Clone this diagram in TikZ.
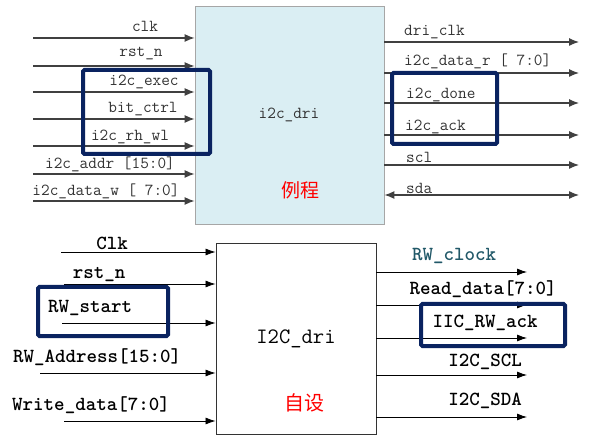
\documentclass[tikz,border=0pt]{standalone}
\usepackage{fontspec}
\usetikzlibrary{arrows.meta}
\newfontfamily\cjkfont{Noto Sans CJK SC}
\newfontfamily\bmono{lmmonolt10-bold}[Extension=.otf]
\definecolor{boxblue}{HTML}{DAEEF3}
\definecolor{navy}{HTML}{0A2360}
\definecolor{teal}{HTML}{215868}
\definecolor{wire}{HTML}{404040}
\tikzset{
  topwire/.style={draw=wire, line width=1.2pt, -{Latex[length=10pt,width=8pt]}},
  topbi/.style={draw=wire, line width=1.2pt, {Latex[length=10pt,width=8pt]}-{Latex[length=10pt,width=8pt]}},
  botwire/.style={draw=black, line width=0.8pt, -{Latex[length=10pt,width=7pt]}},
  toplbl/.style={font=\ttfamily\fontsize{16.8}{17}\selectfont, text=black!80, inner sep=0pt},
  botlbl/.style={font=\bmono\fontsize{20}{20}\selectfont, inner sep=0pt},
  hl/.style={draw=navy, line width=4pt, rounded corners=1.5pt},
}
\begin{document}
\begin{tikzpicture}[x=1pt,y=-1pt]
\useasboundingbox (0,0) rectangle (591,435);
% ---------- top block ----------
\node[draw=black!35, fill=boxblue, line width=0.8pt, minimum width=189pt, minimum height=218pt, inner sep=0pt] (top) at (289.5,115) {};
\node[font=\ttfamily\fontsize{16.8}{17}\selectfont, text=black!80] (topname) at (289,115) {i2c\_dri};
\node[font=\cjkfont\fontsize{19}{19}\selectfont, text=red] (topcn) at (300,190) {例程};
% inputs
\foreach \n/\y in {a1/38,a2/66,a3/92,a4/119,a5/146,a6/174,a7/201}{
  \coordinate (\n) at (33,\y);
  \draw[topwire] (\n) -- (\n -| top.west);
}
\node[toplbl] (la1) at (145,26) {clk};
\node[toplbl] (la2) at (141,54) {rst\_n};
\node[toplbl] (la3) at (144,82) {i2c\_exec};
\node[toplbl] (la4) at (143,109) {bit\_ctrl};
\node[toplbl] (la5) at (130,137) {i2c\_rh\_wl};
\node[toplbl] (la6) at (110,164) {i2c\_addr [15:0]};
\node[toplbl] (la7) at (106,191) {i2c\_data\_w [ 7:0]};
% outputs
\foreach \n/\y in {b1/42,b2/73,b3/103,b4/135,b5/165}{
  \coordinate (\n) at (579,\y);
  \draw[topwire] (\n -| top.east) -- (\n);
}
\coordinate (b6) at (579,195);
\draw[topbi] (b6 -| top.east) -- (b6);
\node[toplbl, anchor=west] (lb1) at (404,32) {dri\_clk};
\node[toplbl, anchor=west] (lb2) at (404,61) {i2c\_data\_r [ 7:0]};
\node[toplbl, anchor=west] (lb3) at (406,95) {i2c\_done};
\node[toplbl, anchor=west] (lb4) at (405,127) {i2c\_ack};
\node[toplbl, anchor=west] (lb5) at (406,157) {scl};
\node[toplbl, anchor=west] (lb6) at (406,188) {sda};
% highlight boxes
\node[hl, minimum width=127pt, minimum height=84pt, inner sep=0pt] (h1) at (146.5,112) {};
\node[hl, minimum width=105pt, minimum height=71pt, inner sep=0pt] (h2) at (444.5,108.5) {};
% ---------- bottom block ----------
\node[draw=black!80, fill=white, line width=0.9pt, minimum width=160pt, minimum height=191pt, inner sep=0pt] (bot) at (296,338.5) {};
\node[font=\ttfamily\fontsize{22}{22}\selectfont] (botname) at (296,339) {I2C\_dri};
\node[font=\cjkfont\fontsize{20}{20}\selectfont, text=red] (botcn) at (304,403) {自设};
% inputs
\foreach \n/\x/\y in {c1/61/252,c2/64/284,c3/62/323,c4/40/373,c5/64/421}{
  \coordinate (\n) at (\x,\y);
  \draw[botwire] (\n) -- (\n -| bot.west);
}
\node[botlbl] (lc1) at (112,243) {Clk};
\node[botlbl] (lc2) at (99,275) {rst\_n};
\node[botlbl] (lc3) at (90,308) {RW\_start};
\node[botlbl] (lc4) at (97,357) {RW\_Address[15:0]};
\node[botlbl] (lc5) at (91,405) {Write\_data[7:0]};
% outputs
\foreach \n/\y in {d1/272,d2/305,d3/338,d4/375,d5/417}{
  \coordinate (\n) at (527,\y);
  \draw[botwire] (\n -| bot.east) -- (\n);
}
\node[botlbl, text=teal] (ld1) at (454,256) {RW\_clock};
\node[botlbl] (ld2) at (483,289) {Read\_data[7:0]};
\node[botlbl] (ld3) at (485,323) {IIC\_RW\_ack};
\node[botlbl] (ld4) at (485,362) {I2C\_SCL};
\node[botlbl] (ld5) at (485,401) {I2C\_SDA};
% highlight boxes
\node[hl, minimum width=130pt, minimum height=49pt, inner sep=0pt] (h3) at (103,311.5) {};
\node[hl, minimum width=144pt, minimum height=42pt, inner sep=0pt] (h4) at (493,325) {};
\end{tikzpicture}
\end{document}
